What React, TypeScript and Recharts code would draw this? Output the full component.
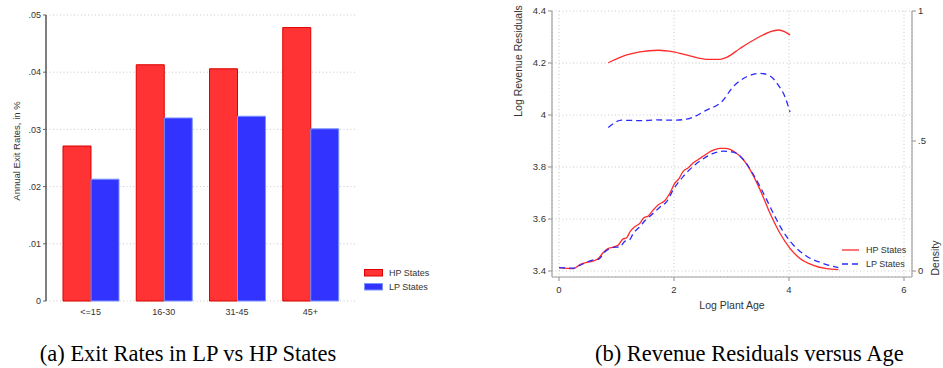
import React from "react";
import { BarChart, Bar, ComposedChart, Line, XAxis, YAxis, CartesianGrid, Label } from "recharts";

const sans = "'Liberation Sans', Arial, Helvetica, sans-serif";
const serif = "'Liberation Serif', 'Times New Roman', serif";
const ink = "#333";
const red = "#ff2a2a";
const blue = "#2a2aff";

// exit rates by plant age bracket
const ageBrackets = ["<=15", "16-30", "31-45", "45+"];
const exitHP = [0.0271, 0.0413, 0.0406, 0.0478];
const exitLP = [0.0213, 0.032, 0.0323, 0.0301];
const exitTicks = [0, 0.01, 0.02, 0.03, 0.04, 0.05];

// revenue residuals (left axis)
const hpResidAge = [0.857, 1.177, 1.409, 1.727, 1.988, 2.278, 2.568, 2.8, 2.916, 3.148, 3.438, 3.67, 3.814, 3.93, 4.017];
const hpResid = [4.201, 4.231, 4.243, 4.249, 4.243, 4.227, 4.214, 4.214, 4.222, 4.256, 4.295, 4.32, 4.327, 4.32, 4.308];
const lpResidAge = [0.857, 1.09, 1.409, 1.699, 1.988, 2.22, 2.568, 2.83, 3.03, 3.264, 3.496, 3.67, 3.814, 3.93, 4.017];
const lpResid = [3.952, 3.98, 3.978, 3.981, 3.98, 3.984, 4.019, 4.051, 4.109, 4.147, 4.16, 4.15, 4.115, 4.07, 4.011];

// age densities (right axis)
const hpDensAge = [0, 0.249, 0.365, 0.481, 0.626, 0.684, 0.771, 0.858, 0.945, 1.032, 1.107, 1.177, 1.235, 1.322, 1.409, 1.466, 1.553, 1.64, 1.727, 1.843, 1.93, 2.017, 2.075, 2.162, 2.249, 2.336, 2.423, 2.51, 2.597, 2.684, 2.8, 2.887, 2.974, 3.061, 3.148, 3.322, 3.496, 3.67, 3.843, 4.017, 4.191, 4.423, 4.655, 4.858];
const hpDens = [0.013, 0.009, 0.025, 0.033, 0.041, 0.048, 0.071, 0.087, 0.092, 0.1, 0.122, 0.128, 0.151, 0.171, 0.184, 0.203, 0.212, 0.235, 0.255, 0.271, 0.3, 0.339, 0.352, 0.384, 0.397, 0.416, 0.429, 0.442, 0.455, 0.465, 0.472, 0.472, 0.468, 0.457, 0.442, 0.39, 0.313, 0.222, 0.145, 0.087, 0.048, 0.022, 0.009, 0.005];
const lpDensAge = [0, 0.249, 0.365, 0.626, 0.684, 0.8, 0.945, 1.061, 1.148, 1.223, 1.293, 1.409, 1.496, 1.64, 1.757, 1.873, 1.988, 2.162, 2.336, 2.51, 2.684, 2.858, 3.032, 3.206, 3.38, 3.554, 3.727, 3.901, 4.075, 4.307, 4.597, 4.858];
const lpDens = [0.013, 0.011, 0.022, 0.044, 0.045, 0.074, 0.091, 0.093, 0.115, 0.119, 0.145, 0.171, 0.194, 0.222, 0.246, 0.267, 0.313, 0.364, 0.403, 0.432, 0.452, 0.461, 0.457, 0.429, 0.371, 0.3, 0.222, 0.151, 0.1, 0.057, 0.029, 0.013];

const residTicks = [3.4, 3.6, 3.8, 4, 4.2, 4.4];
const densTicks = [0, 0.5, 1];
const ageTicks = [0, 2, 4, 6];

const exitData = ageBrackets.map((age, i) => ({ age, hp: exitHP[i], lp: exitLP[i] }));
const zip = (xs: number[], ys: number[]) => xs.map((x, i) => ({ x, y: ys[i] }));

const stataNum = (v: number) => (v === 0 ? "0" : String(v).replace(/^0\./, "."));

const tickStyle = { fontSize: 9, fill: ink, fontFamily: sans };

const barKeys = [
  { name: "HP States", fill: "#ff3333", stroke: "#dd0000" },
  { name: "LP States", fill: "#3333ff", stroke: "#7a95ff" },
];
const lineKeys = [
  { name: "HP States", color: red, dash: undefined as string | undefined },
  { name: "LP States", color: blue, dash: "6 4" },
];

function BarLegend() {
  return (
    <div style={{ position: "absolute", left: 364, top: 266, fontFamily: sans, fontSize: 9, color: ink }}>
      {barKeys.map((it) => (
        <div key={it.name} style={{ display: "flex", alignItems: "center", height: 14 }}>
          <svg width={19} height={8} style={{ marginRight: 6 }}>
            <rect x={0.5} y={0.5} width={18} height={6.5} fill={it.fill} stroke={it.stroke} />
          </svg>
          {it.name}
        </div>
      ))}
    </div>
  );
}

function LineLegend() {
  return (
    <div style={{ position: "absolute", left: 842, top: 243, fontFamily: sans, fontSize: 9, color: ink }}>
      {lineKeys.map((it) => (
        <div key={it.name} style={{ display: "flex", alignItems: "center", height: 14 }}>
          <svg width={17} height={4} style={{ marginRight: 7 }}>
            <line x1={0} y1={2} x2={17} y2={2} stroke={it.color} strokeWidth={1.3} strokeDasharray={it.dash} />
          </svg>
          {it.name}
        </div>
      ))}
    </div>
  );
}

function ExitRates() {
  return (
    <BarChart width={400} height={330} data={exitData} margin={{ top: 15, right: 45, bottom: 9, left: 10 }} barCategoryGap={9} barGap={0}>
      <CartesianGrid vertical={false} stroke="#c8c8c8" strokeDasharray="1 2.5" />
      <XAxis dataKey="age" axisLine={false} tickLine={false} tickSize={0} tickMargin={8} height={20} tick={tickStyle} padding={{ left: 8, right: 8 }} interval={0} />
      <YAxis domain={[0, 0.05]} ticks={exitTicks} tickFormatter={stataNum} width={36} tick={tickStyle} axisLine={{ stroke: "#000" }} tickLine={{ stroke: "#666" }} tickSize={3} tickMargin={2}>
        <Label
          content={() => (
            <text x={20} y={151} textAnchor="middle" transform="rotate(-90, 20, 151)" fontSize={9.5} fill={ink} fontFamily={sans}>
              Annual Exit Rates, in %
            </text>
          )}
        />
      </YAxis>
      <Bar dataKey="hp" name={barKeys[0].name} fill={barKeys[0].fill} stroke={barKeys[0].stroke} strokeWidth={1} isAnimationActive={false} />
      <Bar dataKey="lp" name={barKeys[1].name} fill={barKeys[1].fill} stroke={barKeys[1].stroke} strokeWidth={1} isAnimationActive={false} />
    </BarChart>
  );
}

function ResidualsByAge() {
  const axisLine = { stroke: "#a0a0a0", strokeWidth: 1.2 };
  return (
    <ComposedChart width={453} height={330} margin={{ top: 11, right: 7, bottom: 17, left: 22 }}>
      <CartesianGrid yAxisId="left" stroke="#c8c8c8" strokeDasharray="1 2.5" />
      <XAxis dataKey="x" type="number" domain={[0, 6]} ticks={ageTicks} allowDuplicatedCategory={false} padding={{ left: 7, right: 8 }} height={36} tick={{ ...tickStyle, fontSize: 9.5 }} axisLine={axisLine} tickLine={axisLine} tickSize={4} tickMargin={5}>
        <Label
          content={() => (
            <text x={242} y={309} textAnchor="middle" fontSize={10.5} fill={ink} fontFamily={sans}>
              Log Plant Age
            </text>
          )}
        />
      </XAxis>
      <YAxis yAxisId="left" domain={[3.4, 4.4]} ticks={residTicks} tickFormatter={(v: number) => String(v)} padding={{ top: 0, bottom: 6 }} width={40} tick={{ ...tickStyle, fontSize: 9.5 }} axisLine={axisLine} tickLine={axisLine} tickSize={4} tickMargin={2}>
        <Label
          content={() => (
            <text x={32} y={61} textAnchor="middle" transform="rotate(-90, 32, 61)" fontSize={10.5} fill={ink} fontFamily={sans}>
              Log Revenue Residuals
            </text>
          )}
        />
      </YAxis>
      <YAxis yAxisId="right" orientation="right" domain={[0, 1]} ticks={densTicks} tickFormatter={stataNum} padding={{ top: 0, bottom: 6 }} width={24} tick={{ ...tickStyle, fontSize: 9.5 }} axisLine={axisLine} tickLine={axisLine} tickSize={4} tickMargin={2}>
        <Label
          content={() => (
            <text x={449} y={258} textAnchor="middle" transform="rotate(-90, 449, 258)" fontSize={10.5} fill={ink} fontFamily={sans}>
              Density
            </text>
          )}
        />
      </YAxis>
      <Line yAxisId="left" data={zip(hpResidAge, hpResid)} dataKey="y" type="monotone" stroke={red} strokeWidth={1.3} dot={false} isAnimationActive={false} />
      <Line yAxisId="left" data={zip(lpResidAge, lpResid)} dataKey="y" type="monotone" stroke={blue} strokeWidth={1.3} strokeDasharray="6 4" dot={false} isAnimationActive={false} />
      <Line yAxisId="right" data={zip(hpDensAge, hpDens)} dataKey="y" name={lineKeys[0].name} type="monotone" stroke={red} strokeWidth={1.3} dot={false} isAnimationActive={false} />
      <Line yAxisId="right" data={zip(lpDensAge, lpDens)} dataKey="y" name={lineKeys[1].name} type="monotone" stroke={blue} strokeWidth={1.3} strokeDasharray="6 4" dot={false} isAnimationActive={false} />
    </ComposedChart>
  );
}

export default function App() {
  const caption: React.CSSProperties = {
    position: "absolute",
    top: 341,
    height: 26,
    lineHeight: "26px",
    fontFamily: serif,
    fontSize: 22.5,
    color: "#000",
    textAlign: "center",
    whiteSpace: "nowrap",
  };
  return (
    <div style={{ position: "absolute", left: 0, top: 0, width: 943, height: 368, background: "#fff", overflow: "hidden" }}>
      <div style={{ position: "absolute", left: 0, top: 0 }}>
        <ExitRates />
      </div>
      <div style={{ position: "absolute", left: 490, top: 0 }}>
        <ResidualsByAge />
      </div>
      <BarLegend />
      <LineLegend />
      <div style={{ ...caption, left: 38, width: 300 }}>(a) Exit Rates in LP vs HP States</div>
      <div style={{ ...caption, left: 595, width: 300 }}>(b) Revenue Residuals versus Age</div>
    </div>
  );
}
